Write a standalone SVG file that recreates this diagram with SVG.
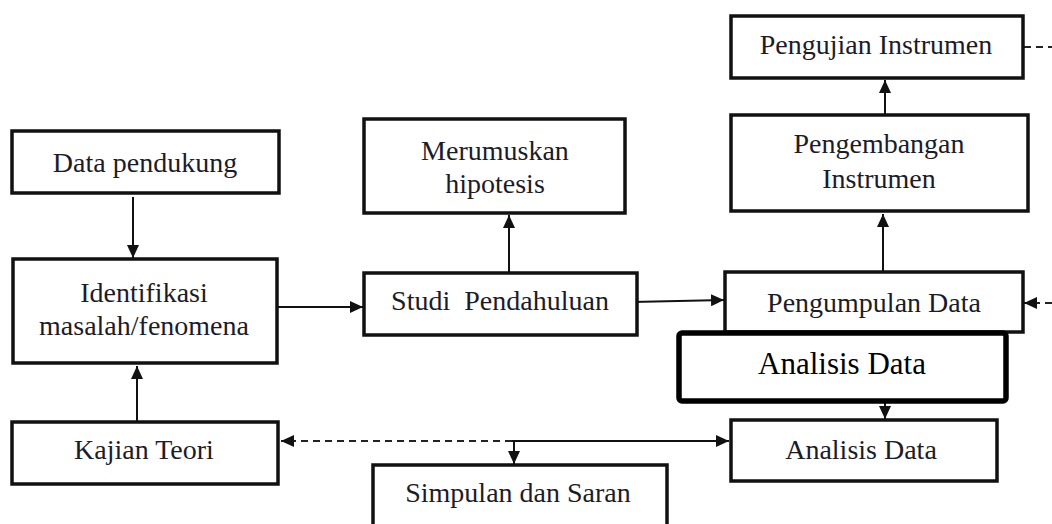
<svg xmlns="http://www.w3.org/2000/svg" width="1052" height="524" viewBox="0 0 1052 524">
<style>
.box{fill:#fff;stroke:#111;stroke-width:3.5}
.t{font-family:"Liberation Serif","Times New Roman",serif;font-size:28px;fill:#1c1c28;text-anchor:middle;white-space:pre}
.ln{fill:none;stroke:#111;stroke-width:2}
.dash{fill:none;stroke:#222;stroke-width:2;stroke-dasharray:7,5}
.ov{fill:#fff;stroke:#000;stroke-width:5.5}
.ot{font-family:"Liberation Serif","Times New Roman",serif;font-size:31px;fill:#000;text-anchor:middle}
</style>
<defs>
<marker id="ah" markerUnits="userSpaceOnUse" markerWidth="13" markerHeight="12" refX="13" refY="6" orient="auto">
<path d="M0,0 L13,6 L0,12 z" fill="#111"/>
</marker>
</defs>
<rect width="1052" height="524" fill="#fff"/>
<g id="connectors">
<line class="ln" x1="133" y1="197" x2="133" y2="258" marker-end="url(#ah)"/>
<line class="ln" x1="277" y1="307" x2="363" y2="307" marker-end="url(#ah)"/>
<line class="ln" x1="137" y1="421" x2="137" y2="366" marker-end="url(#ah)"/>
<line class="ln" x1="509" y1="272" x2="509" y2="215" marker-end="url(#ah)"/>
<line class="ln" x1="632" y1="302" x2="724" y2="300" marker-end="url(#ah)"/>
<line class="ln" x1="883" y1="271" x2="883" y2="214" marker-end="url(#ah)"/>
<line class="ln" x1="885" y1="114" x2="885" y2="80" marker-end="url(#ah)"/>
<line class="dash" x1="1024" y1="47" x2="1052" y2="47"/>
<line class="dash" x1="1052" y1="303" x2="1035" y2="303"/>
<line class="ln" x1="1036" y1="303" x2="1024" y2="303" marker-end="url(#ah)"/>
<line class="ln" x1="885" y1="333" x2="885" y2="419" marker-end="url(#ah)"/>
<line class="dash" x1="512" y1="441" x2="281" y2="441" marker-end="url(#ah)"/>
<line class="ln" x1="512" y1="441" x2="729" y2="441" marker-end="url(#ah)"/>
<line class="ln" x1="514" y1="441" x2="514" y2="464" marker-end="url(#ah)"/>
</g>
<g id="data-pendukung"><rect class="box" x="12" y="131" width="267" height="62"/><text class="t" x="145" y="172">Data pendukung</text></g>
<g id="identifikasi"><rect class="box" x="13" y="259" width="264" height="104"/><text class="t" x="144" y="302">Identifikasi</text><text class="t" x="144" y="335">masalah/fenomena</text></g>
<g id="kajian-teori"><rect class="box" x="12" y="422" width="266" height="62"/><text class="t" x="144" y="459">Kajian Teori</text></g>
<g id="merumuskan"><rect class="box" x="364" y="119" width="261" height="94"/><text class="t" x="495" y="160">Merumuskan</text><text class="t" x="495" y="193">hipotesis</text></g>
<g id="studi"><rect class="box" x="364" y="273" width="273" height="62"/><text class="t" x="500" y="310">Studi  Pendahuluan</text></g>
<g id="simpulan"><rect class="box" x="373" y="465" width="294" height="80"/><text class="t" x="518" y="502">Simpulan dan Saran</text></g>
<g id="pengujian"><rect class="box" x="731" y="16" width="292" height="62"/><text class="t" x="876" y="54">Pengujian Instrumen</text></g>
<g id="pengembangan"><rect class="box" x="731" y="115" width="297" height="96"/><text class="t" x="879" y="153">Pengembangan</text><text class="t" x="879" y="188">Instrumen</text></g>
<g id="pengumpulan"><rect class="box" x="725" y="272" width="298" height="60"/><text class="t" x="874" y="312">Pengumpulan Data</text></g>
<g id="analisis"><rect class="box" x="731" y="420" width="266" height="61"/><text class="t" x="861" y="459">Analisis Data</text></g>
<g id="analisis-overlay"><rect class="ov" x="679" y="333" width="327" height="68" rx="3"/><text class="ot" x="842" y="374">Analisis Data</text></g>
</svg>
